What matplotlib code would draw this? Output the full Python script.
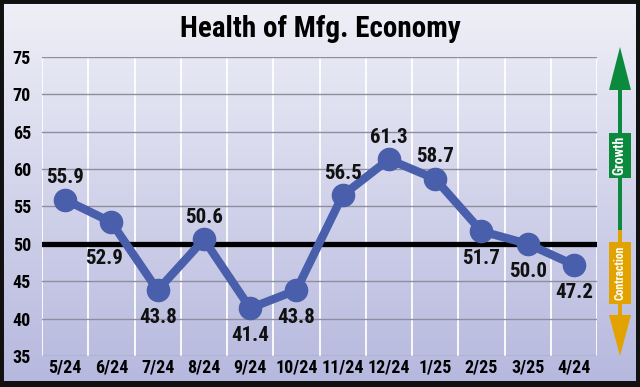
import matplotlib
matplotlib.use("Agg")
import matplotlib.pyplot as plt
import numpy as np
from matplotlib.patches import Rectangle, Polygon

months = ["5/24", "6/24", "7/24", "8/24", "9/24", "10/24", "11/24", "12/24",
          "1/25", "2/25", "3/25", "4/24"]
values = [55.9, 52.9, 43.8, 50.6, 41.4, 43.8, 56.5, 61.3, 58.7, 51.7, 50.0, 47.2]
label_above = [True, False, False, True, False, False, True, True, True, False, False, False]
yticks = [35, 40, 45, 50, 55, 60, 65, 70, 75]
title = "Health of Mfg. Economy"

FONT = ["Roboto Condensed", "Archivo Narrow", "Barlow Condensed",
        "Liberation Sans Narrow", "DejaVu Sans"]
LINE = "#4a5fab"
# per-label nudges (points) to keep labels clear of the line
nudge = {"6/24": (-5, -6)}

W, H = 640, 387
fig = plt.figure(figsize=(W / 100, H / 100), dpi=100)

# background gradient
bg = fig.add_axes([0, 0, 1, 1], zorder=-10)
grad = np.linspace(0, 1, 256).reshape(-1, 1)
top = np.array([0.94, 0.94, 0.97])
bot = np.array([0.71, 0.72, 0.87])
img = top[None, None, :] * (1 - grad[:, :, None]) + bot[None, None, :] * grad[:, :, None]
bg.imshow(img, aspect="auto", extent=[0, 1, 0, 1], origin="upper")
bg.set_xlim(0, 1)
bg.set_ylim(0, 1)
bg.axis("off")

x0, x1 = 42, 597
y75, y35 = 57, 356
ax = fig.add_axes([x0 / W, 1 - y35 / H, (x1 - x0) / W, (y35 - y75) / H])
ax.patch.set_alpha(0)
n = len(months)
xs = np.arange(n)
ax.set_xlim(-0.5, n - 0.5)
ax.set_ylim(35, 75)
for s in ax.spines.values():
    s.set_visible(False)

for yv in yticks:
    ax.axhline(yv, color="#8e8e9e", lw=1.0, zorder=1)
for xb in np.arange(-0.5, n, 1.0):
    ax.axvline(xb, color="white", lw=1.3, zorder=0.5)
ax.axhline(50, color="black", lw=3.8, zorder=2)

ax.plot(xs, values, color=LINE, lw=6, marker="o", ms=16, zorder=3,
        solid_capstyle="round")

for m, x, v, up in zip(months, xs, values, label_above):
    dx, dy = nudge.get(m, (0, 0))
    ax.annotate(f"{v:.1f}", (x, v), xytext=(dx, (9 if up else -13) + dy),
                textcoords="offset points", ha="center",
                va="bottom" if up else "top", fontsize=15, fontweight="bold",
                family=FONT, color="#111111", zorder=4)

ax.set_yticks(yticks)
ax.set_yticklabels([str(t) for t in yticks], family=FONT, fontsize=13,
                   fontweight="bold")
ax.set_xticks(xs)
ax.set_xticklabels(months, family=FONT, fontsize=13, fontweight="bold")
ax.tick_params(length=0, pad=2)
ax.tick_params(axis="y", pad=8)

fig.text(0.5, 1 - 29 / H, title, ha="center", va="center", fontsize=21,
         fontweight="bold", family=FONT, color="black")

# growth / contraction arrow
GREEN = "#0b8a3d"
ORANGE = "#e2a300"
ax2 = fig.add_axes([0, 0, 1, 1], zorder=5)
ax2.set_xlim(0, W)
ax2.set_ylim(H, 0)
ax2.axis("off")
ax2.add_patch(Rectangle((618, 88), 4, 145, color=GREEN, lw=0))
ax2.add_patch(Polygon([[609, 90], [631, 90], [620, 47]], closed=True, color=GREEN, lw=0))
ax2.add_patch(Rectangle((618, 230), 4, 88, color=ORANGE, lw=0))
ax2.add_patch(Polygon([[609, 315], [631, 315], [620, 356]], closed=True, color=ORANGE, lw=0))
ax2.add_patch(Rectangle((608.5, 133), 22, 45, color=GREEN, lw=0))
ax2.add_patch(Rectangle((608.5, 242), 22, 62, color=ORANGE, lw=0))
ax2.text(619.8, 155.5, "Growth", rotation=90, ha="center", va="center",
         color="white", fontsize=10, fontweight="bold", family=FONT)
ax2.text(619.8, 273, "Contraction", rotation=90, ha="center", va="center",
         color="white", fontsize=8.5, fontweight="bold", family=FONT)

# frame
ax2.add_patch(Rectangle((0, 0), W, H, fill=False, ec="#111111", lw=5))
ax2.add_patch(Rectangle((636, 0), 4, H, color="#111111", lw=0))
ax2.add_patch(Rectangle((0, 381), W, 6, color="#111111", lw=0))

fig.savefig("out.png", dpi=100)
